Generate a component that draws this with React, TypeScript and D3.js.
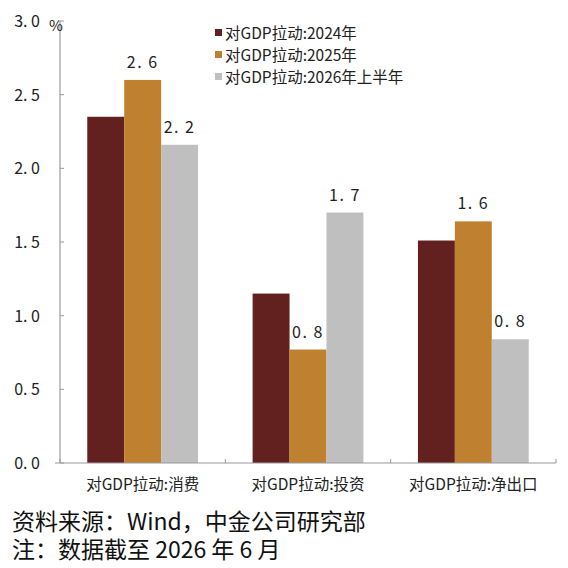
import React from 'react'
import * as d3 from 'd3';

const categories = ['对GDP拉动:消费', '对GDP拉动:投资', '对GDP拉动:净出口'];
const seriesNames = ['对GDP拉动:2024年', '对GDP拉动:2025年', '对GDP拉动:2026年上半年'];
const v2024 = [2.35, 1.15, 1.51];
const v2025 = [2.6, 0.77, 1.64];
const v2026 = [2.16, 1.7, 0.84];
const yTicks = [0, 0.5, 1.0, 1.5, 2.0, 2.5, 3.0];
const labelled = [false, true, true];
const colors = ['#62211F', '#BF802F', '#BFBFBF'];

const font = '"Noto Sans CJK SC", "Noto Sans", sans-serif';

const App = () => {
  const W = 568, H = 568;
  const left = 60, right = 556, top = 21, bottom = 463;
  const series = [v2024, v2025, v2026];

  const y = d3.scaleLinear().domain([0, 3]).range([bottom, top]);
  const x0 = d3.scaleBand().domain(categories).range([left, right]).padding(0);
  const bw = x0.bandwidth();
  const x1 = d3.scaleBand().domain(seriesNames).range([bw * 0.165, bw * 0.835]).padding(0);

  return (
    <svg width={W} height={H} style={{ position: 'absolute', left: 0, top: 0, background: '#fff' }} fontFamily={font}>
      {/* bars */}
      {categories.map((c, ci) => (
        <g key={c} transform={`translate(${x0(c)},0)`}>
          {seriesNames.map((s, si) => {
            const v = series[si][ci];
            return (
              <g key={s}>
                <rect x={x1(s)} y={y(v)} width={x1.bandwidth()} height={bottom - y(v)} fill={colors[si]} />
                {labelled[si] && (
                  <text x={(x1(s) as number) + x1.bandwidth() / 2} y={y(v) - 12} textAnchor='middle'
                    fontSize={16} fill='#222' letterSpacing={1.5}>{v.toFixed(1).replace('.', '. ')}</text>
                )}
              </g>
            );
          })}
        </g>
      ))}

      {/* y axis */}
      <line x1={left} x2={left} y1={top} y2={bottom} stroke='#999' strokeWidth={1.2} />
      {yTicks.map(t => (
        <g key={t}>
          <line x1={left} x2={left + 4} y1={y(t)} y2={y(t)} stroke='#999' />
          <text x={40} y={y(t) + 6} textAnchor='end' fontSize={16} fill='#222'>{t.toFixed(1).replace('.', '. ')}</text>
        </g>
      ))}
      <text x={56} y={31} textAnchor='middle' fontSize={15} fill='#222'>%</text>

      {/* x axis */}
      <line x1={55} x2={right} y1={bottom} y2={bottom} stroke='#999' strokeWidth={1.2} />
      {[...categories.map(c => x0(c) as number), right].map((t, i) => (
        <line key={i} x1={t} x2={t} y1={bottom} y2={bottom - 4} stroke='#999' />
      ))}
      {categories.map(c => (
        <text key={c} x={(x0(c) as number) + bw / 2} y={490} textAnchor='middle' fontSize={15.5} fill='#222'>{c}</text>
      ))}

      {/* legend */}
      {seriesNames.map((s, i) => (
        <g key={s} transform={`translate(215,${33 + i * 22})`}>
          <rect x={0} y={-4} width={7} height={7} fill={colors[i]} />
          <text x={10} y={6} fontSize={15.5} fill='#222'>{s}</text>
        </g>
      ))}

      {/* footer */}
      <text x={12} y={530} fontSize={23} fill='#111'>资料来源：Wind，中金公司研究部</text>
      <text x={12} y={558} fontSize={23} fill='#111'>注：数据截至 2026 年 6 月</text>
    </svg>
  );
};

export default App
